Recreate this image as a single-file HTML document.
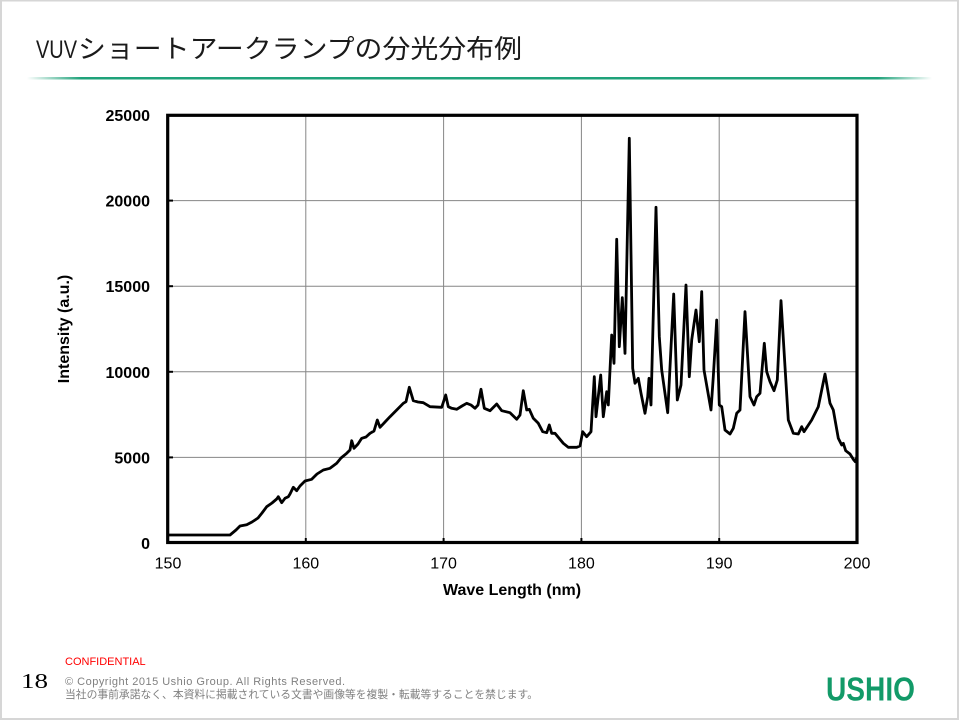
<!DOCTYPE html>
<html><head><meta charset="utf-8"><style>
html,body{margin:0;padding:0;background:#fff;}
svg{display:block;}
</style></head><body>
<svg width="960" height="720" viewBox="0 0 960 720" xmlns="http://www.w3.org/2000/svg">
<defs>
<linearGradient id="gl" x1="0" x2="1" y1="0" y2="0">
<stop offset="0" stop-color="#1fa27a" stop-opacity="0"/>
<stop offset="0.06" stop-color="#1fa27a" stop-opacity="1"/>
<stop offset="0.94" stop-color="#1fa27a" stop-opacity="1"/>
<stop offset="1" stop-color="#1fa27a" stop-opacity="0"/>
</linearGradient>
</defs>
<rect x="0" y="0" width="960" height="720" fill="#fff"/>
<rect x="1" y="0.5" width="957" height="718.5" fill="none" stroke="#d6d6d6" stroke-width="2"/>

<text x="36" y="58" font-family="'Liberation Sans',sans-serif" font-size="25" fill="#1a1a1a" textLength="41" lengthAdjust="spacingAndGlyphs">VUV</text>
<text x="78" y="58" font-family="'Liberation Sans','Noto Sans CJK JP',sans-serif" font-size="26" fill="#1a1a1a" textLength="444" lengthAdjust="spacingAndGlyphs">ショートアークランプの分光分布例</text>
<rect x="27" y="77" width="905" height="2.5" fill="url(#gl)"/>

<!-- grid -->
<g stroke="#868686" stroke-width="1">
<line x1="305.8" y1="115" x2="305.8" y2="543"/>
<line x1="443.6" y1="115" x2="443.6" y2="543"/>
<line x1="581.4" y1="115" x2="581.4" y2="543"/>
<line x1="719.2" y1="115" x2="719.2" y2="543"/>
<line x1="168" y1="457.4" x2="857" y2="457.4"/>
<line x1="168" y1="371.8" x2="857" y2="371.8"/>
<line x1="168" y1="286.2" x2="857" y2="286.2"/>
<line x1="168" y1="200.6" x2="857" y2="200.6"/>
</g>
<g stroke="#000" stroke-width="2">
<line x1="168" y1="457.4" x2="173" y2="457.4"/>
<line x1="168" y1="371.8" x2="173" y2="371.8"/>
<line x1="168" y1="286.2" x2="173" y2="286.2"/>
<line x1="168" y1="200.6" x2="173" y2="200.6"/>
<line x1="305.8" y1="543" x2="305.8" y2="538"/>
<line x1="443.6" y1="543" x2="443.6" y2="538"/>
<line x1="581.4" y1="543" x2="581.4" y2="538"/>
<line x1="719.2" y1="543" x2="719.2" y2="538"/>
</g>

<!-- data -->
<path fill="none" stroke="#000" stroke-width="2.8" stroke-linejoin="round" stroke-linecap="round" d="M168,535 L230,535 L236,530 L240,526 L246.7,524.7 L252,522 L258,518 L262,513 L266.7,506.7 L272,503 L276.7,499 L278.3,496.7 L281.7,502.7 L285,498.3 L288.3,496.7 L290,494 L293.3,487.3 L296.7,490.7 L300,486 L305,481 L311.7,479.3 L317,474 L323.3,470 L330,468.3 L336.7,463.3 L341,458 L346.7,453.3 L350,450 L351.7,440.7 L354,448.3 L358,444 L361.7,438.3 L366,437 L370,433.3 L374,431 L377.3,420 L380,427.3 L385,422 L390,416.7 L396.7,410 L403.3,403.3 L406,401.7 L409.3,387.3 L413.3,400.7 L418,402 L423.3,402.7 L430,406.7 L441.7,407.3 L445.7,395 L448.3,406.7 L451.7,408.3 L456.7,409.3 L462,406 L466.7,403.3 L471,405 L475,408.3 L478,405 L481,389.3 L484.3,408.3 L490,410.7 L496.7,404 L501.7,410.7 L510,412.7 L516.7,419.3 L520,415 L523.3,390.7 L526.7,410 L529.3,409.3 L533.3,418.3 L538.3,423.3 L542.7,431.7 L546.7,432.7 L549.3,425 L551.7,433.3 L555,433.3 L563.3,443.3 L568.3,447.3 L576.7,447.3 L580,446 L582.7,431.7 L586.7,436.7 L591,431.7 L594.3,376.7 L596,416.7 L600.7,375 L603.3,416.7 L606.7,391.7 L608.3,405 L611.7,335 L614,363.3 L616.7,239.3 L619.3,346.7 L622.3,297.7 L625,353.3 L629.3,138.3 L632.7,368.3 L635,383.3 L638.3,378.3 L641,393.3 L645,413.3 L647.7,396.7 L649,378.3 L651,405 L656,207.3 L659.3,336.7 L661.7,370 L667.7,412.7 L673.7,294 L677.3,400 L681,385 L686,285 L689.3,376.7 L691.7,340 L696,310 L699.3,341.7 L701.7,291.7 L704,370 L711,410 L713.3,376.7 L716.7,320 L719.3,405 L721.7,406.7 L725,430 L730,434 L733.3,428.3 L736.7,413.3 L740,410 L745,311.7 L750,396.7 L754,405 L756.7,396.7 L760,393.3 L764.3,343.3 L766.7,371.7 L770,381.7 L774,390.7 L777.3,380 L781,300.7 L785,366.7 L788.3,420 L793.3,433.3 L798.3,434 L801.7,426.7 L804,431.7 L811.7,420 L818.3,406.7 L825,374 L830,403.3 L833.3,410 L838.3,438.3 L841.7,445 L843.3,443.3 L845.7,450.7 L850,454 L853.3,459.3 L855.3,461.7 L857,456.7"/>

<!-- frame -->
<rect x="167.7" y="115.3" width="689.3" height="427.2" fill="none" stroke="#000" stroke-width="3.2"/>

<!-- y labels -->
<g font-family="'Liberation Sans',sans-serif" font-size="16" font-weight="bold" fill="#000" text-anchor="end">
<text x="150" y="121">25000</text>
<text x="150" y="206.6">20000</text>
<text x="150" y="292.2">15000</text>
<text x="150" y="377.8">10000</text>
<text x="150" y="463.4">5000</text>
<text x="150" y="549">0</text>
</g>
<!-- x labels -->
<g font-family="'Liberation Sans',sans-serif" font-size="16" fill="#000" text-anchor="middle">
<text x="168" y="568.5">150</text>
<text x="305.8" y="568.5">160</text>
<text x="443.6" y="568.5">170</text>
<text x="581.4" y="568.5">180</text>
<text x="719.2" y="568.5">190</text>
<text x="857" y="568.5">200</text>
</g>
<text x="512" y="595" font-family="'Liberation Sans',sans-serif" font-size="16" font-weight="bold" text-anchor="middle" fill="#000">Wave Length (nm)</text>
<text transform="translate(69,329) rotate(-90)" x="0" y="0" font-family="'Liberation Sans',sans-serif" font-size="16" font-weight="bold" text-anchor="middle" fill="#000">Intensity (a.u.)</text>

<!-- footer -->
<text x="65" y="665" font-family="'Liberation Sans',sans-serif" font-size="11" fill="#ff0000">CONFIDENTIAL</text>
<text x="21" y="688" font-family="'Liberation Serif',serif" font-size="21" fill="#000" textLength="27" lengthAdjust="spacingAndGlyphs">18</text>
<text x="65" y="685" font-family="'Liberation Sans',sans-serif" font-size="11" fill="#808080" textLength="280" lengthAdjust="spacing">© Copyright 2015 Ushio Group.  All Rights Reserved.</text>
<text x="65" y="698" font-family="'Liberation Sans','Noto Sans CJK JP',sans-serif" font-size="11" fill="#808080" textLength="473" lengthAdjust="spacingAndGlyphs">当社の事前承諾なく、本資料に掲載されている文書や画像等を複製・転載等することを禁じます。</text>
<text x="826" y="700.5" font-family="'Liberation Sans',sans-serif" font-size="33" font-weight="bold" fill="#129a68" textLength="89" lengthAdjust="spacingAndGlyphs">USHIO</text>
</svg>
</body></html>
